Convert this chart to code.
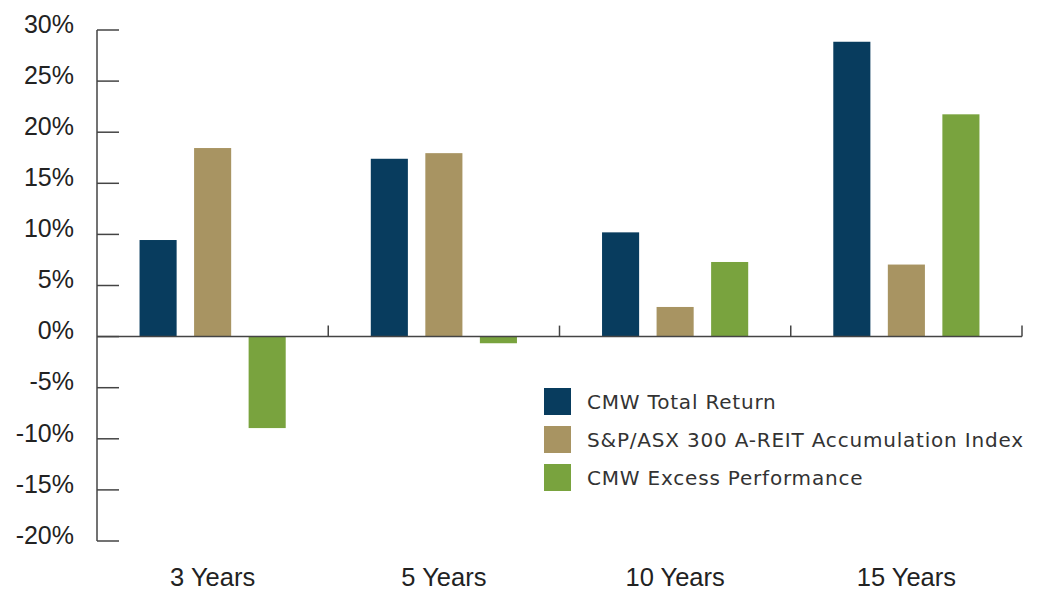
<!DOCTYPE html>
<html>
<head>
<meta charset="utf-8">
<script src="https://cdn.jsdelivr.net/npm/d3@7"></script>
<style>
  body { margin: 0; background: #fff; }
  text { font-family: "Liberation Sans", Arial, sans-serif; fill: #222; }
  .legend text { font-family: "DejaVu Sans", sans-serif; fill: #333; letter-spacing: 0.8px; }
</style>
</head>
<body>
<div id="chart"></div>
<script>
// data
const periods = ["3 Years", "5 Years", "10 Years", "15 Years"];
const seriesNames = [
  "CMW Total Return",
  "S&P/ASX 300 A-REIT Accumulation Index",
  "CMW Excess Performance"
];
const totalReturn = [9.45, 17.4, 10.2, 28.85];
const indexReturn = [18.45, 17.95, 2.9, 7.05];
const excessPerf = [-8.95, -0.65, 7.3, 21.75];
const yTicks = [-20, -15, -10, -5, 0, 5, 10, 15, 20, 25, 30];

const colors = ["#083c5e", "#a89462", "#79a33e"];

const width = 1043,
  height = 591;
const margin = { top: 30, right: 21, bottom: 50, left: 97 };

const svg = d3
  .select("#chart")
  .append("svg")
  .attr("width", width)
  .attr("height", height);

const y = d3
  .scaleLinear()
  .domain([-20, 30])
  .range([541, 30]);

const x = d3
  .scaleBand()
  .domain(periods)
  .range([margin.left, width - margin.right])
  .padding(0);

const xInner = d3
  .scaleBand()
  .domain(seriesNames)
  .range([0, x.bandwidth()])
  .paddingInner(0.32)
  .paddingOuter(0.78);

const rows = periods.map((p, i) => ({
  period: p,
  values: [totalReturn[i], indexReturn[i], excessPerf[i]]
}));

// bars
const groups = svg
  .append("g")
  .selectAll("g")
  .data(rows)
  .join("g")
  .attr("transform", (d) => `translate(${x(d.period)},0)`);

groups
  .selectAll("rect")
  .data((d) => d.values.map((v, j) => ({ v, name: seriesNames[j], j })))
  .join("rect")
  .attr("x", (d) => xInner(d.name))
  .attr("width", xInner.bandwidth())
  .attr("y", (d) => y(Math.max(0, d.v)))
  .attr("height", (d) => Math.abs(y(d.v) - y(0)))
  .attr("fill", (d) => colors[d.j]);

// y axis
const yAxis = svg.append("g").attr("stroke", "#444").attr("stroke-width", 1.5);
yAxis
  .append("line")
  .attr("x1", margin.left)
  .attr("x2", margin.left)
  .attr("y1", y(30))
  .attr("y2", y(-20));
yAxis
  .selectAll("line.tick")
  .data(yTicks)
  .join("line")
  .attr("class", "tick")
  .attr("x1", margin.left)
  .attr("x2", margin.left + 22)
  .attr("y1", (d) => y(d))
  .attr("y2", (d) => y(d));

svg
  .append("g")
  .selectAll("text")
  .data(yTicks)
  .join("text")
  .attr("x", 74)
  .attr("y", (d) => y(d) - 6)
  .attr("dy", "0.35em")
  .attr("text-anchor", "end")
  .attr("font-size", 25)
  .text((d) => d + "%");

// x axis at zero
const xAxis = svg.append("g").attr("stroke", "#444").attr("stroke-width", 1.5);
xAxis
  .append("line")
  .attr("x1", margin.left)
  .attr("x2", width - margin.right)
  .attr("y1", y(0))
  .attr("y2", y(0));
xAxis
  .selectAll("line.tick")
  .data(periods)
  .join("line")
  .attr("class", "tick")
  .attr("x1", (d) => x(d) + x.bandwidth())
  .attr("x2", (d) => x(d) + x.bandwidth())
  .attr("y1", y(0))
  .attr("y2", y(0) - 11);

svg
  .append("g")
  .selectAll("text")
  .data(periods)
  .join("text")
  .attr("x", (d) => x(d) + x.bandwidth() / 2)
  .attr("y", 577)
  .attr("dy", "0.35em")
  .attr("text-anchor", "middle")
  .attr("font-size", 25.5)
  .text((d) => d);

// legend
const legend = svg
  .append("g")
  .attr("class", "legend")
  .attr("transform", "translate(544,388)");

const item = legend
  .selectAll("g")
  .data(seriesNames)
  .join("g")
  .attr("transform", (d, i) => `translate(0,${i * 38})`);

item
  .append("rect")
  .attr("width", 27)
  .attr("height", 27)
  .attr("fill", (d, i) => colors[i]);

item
  .append("text")
  .attr("x", 43)
  .attr("y", 14)
  .attr("dy", "0.35em")
  .attr("font-size", 20)
  .text((d) => d);
</script>
</body>
</html>
